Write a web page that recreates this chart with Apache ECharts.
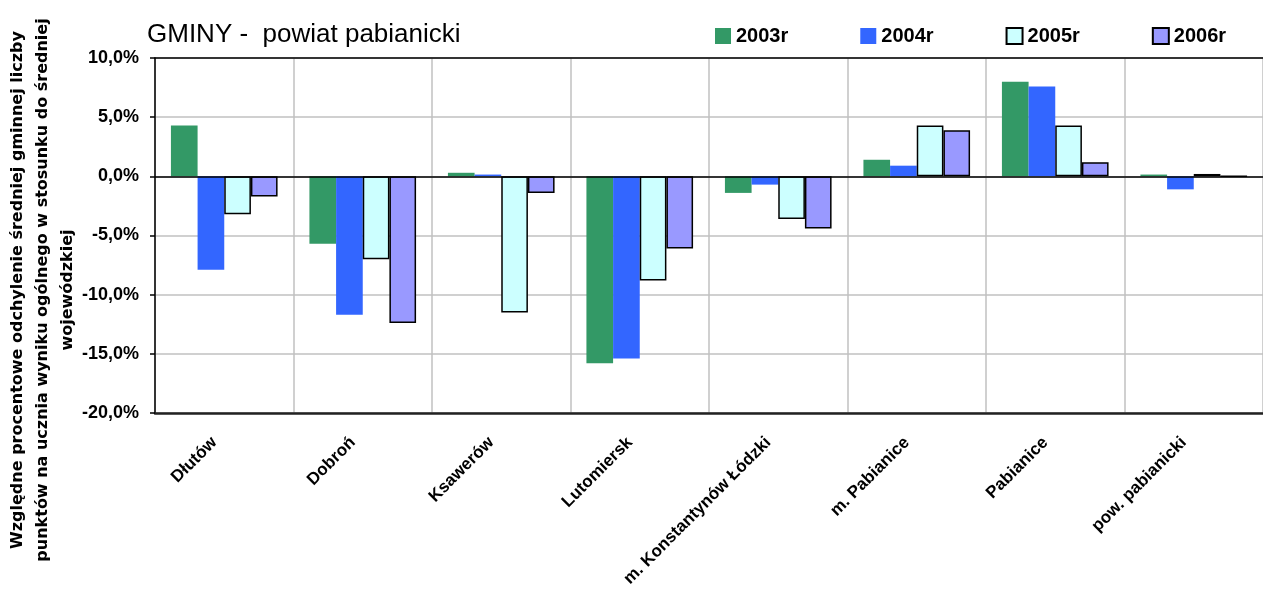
<!DOCTYPE html>
<html>
<head>
<meta charset="utf-8">
<script src="https://cdn.jsdelivr.net/npm/echarts@6/dist/echarts.min.js"></script>
<style>
  html, body { margin: 0; padding: 0; background: #fff; }
  #myChart { width: 1263px; height: 608px; }
</style>
</head>
<body>
<div id="myChart"></div>
<script>
  // dane (w %)
  let gminy = ['Dłutów', 'Dobroń', 'Ksawerów', 'Lutomiersk', 'm. Konstantynów Łódzki', 'm. Pabianice', 'Pabianice', 'pow. pabianicki'];
  let lata = ['2003r', '2004r', '2005r', '2006r'];
  let r2003 = [4.3, -5.7, 0.3, -15.8, -1.4, 1.4, 8.0, 0.15];
  let r2004 = [-7.9, -11.7, 0.15, -15.4, -0.7, 0.9, 7.6, -1.1];
  let r2005 = [-3.2, -7.0, -11.5, -8.8, -3.6, 4.3, 4.3, 0.2];
  let r2006 = [-1.7, -12.4, -1.4, -6.1, -4.4, 3.9, 1.2, 0.0];

  let font = '"Liberation Sans", Arial, sans-serif';

  let myChart = echarts.init(document.getElementById('myChart'));

  let bar = function (name, data, color, border) {
    return {
      name: name,
      type: 'bar',
      data: data,
      barGap: '0%',
      barCategoryGap: '23%',
      itemStyle: {
        color: color,
        borderColor: border ? '#000' : color,
        borderWidth: border ? 1.5 : 0
      }
    };
  };

  let series = [
    bar(lata[0], r2003, '#339966', false),
    bar(lata[1], r2004, '#3366ff', false),
    bar(lata[2], r2005, '#ccffff', true),
    bar(lata[3], r2006, '#9999ff', true)
  ];
  // linia zera
  series[0].markLine = {
    silent: true,
    symbol: 'none',
    label: {show: false},
    lineStyle: {color: '#000', type: 'solid', width: 1.5},
    data: [{yAxis: 0}]
  };

  let option = {
    animation: false,
    textStyle: {fontFamily: font},
    title: {
      text: 'GMINY -  powiat pabianicki',
      left: 147,
      top: 22,
      padding: 0,
      textStyle: {fontSize: 26, fontWeight: 'normal', color: '#000', fontFamily: font}
    },
    legend: {
      data: lata,
      left: 715,
      top: 26,
      padding: 0,
      itemWidth: 16,
      itemHeight: 16,
      itemGap: 72,
      icon: 'rect',
      textStyle: {fontSize: 20, fontWeight: 'bold', color: '#000', fontFamily: font}
    },
    grid: {left: 155, top: 58, width: 1112, height: 355},
    xAxis: [
      {
        type: 'category',
        data: gminy,
        position: 'bottom',
        axisLine: {onZero: false, lineStyle: {color: '#222', width: 2.5}},
        axisTick: {show: false},
        splitLine: {show: true, interval: 0, lineStyle: {color: '#c0c0c0', width: 1.5}},
        axisLabel: {
          interval: 0,
          rotate: 45,
          margin: 17,
          padding: [0, 14, 0, 0],
          color: '#000',
          fontSize: 17,
          fontWeight: 'bold',
          fontFamily: font
        }
      },
      {
        type: 'category',
        data: gminy,
        position: 'top',
        axisLine: {onZero: false, lineStyle: {color: '#000', width: 1.5}},
        axisTick: {show: false},
        axisLabel: {show: false},
        splitLine: {show: false}
      }
    ],
    yAxis: {
      type: 'value',
      min: -20,
      max: 10,
      interval: 5,
      axisLine: {show: true, lineStyle: {color: '#000', width: 1.5}},
      axisTick: {show: true, length: 5, lineStyle: {color: '#000', width: 1.5}},
      splitLine: {show: true, lineStyle: {color: '#c0c0c0', width: 1.5}},
      axisLabel: {
        margin: 16,
        color: '#000',
        fontSize: 18,
        fontWeight: 'bold',
        fontFamily: font,
        formatter: function (v) {
          return v.toFixed(1).replace('.', ',') + '%';
        }
      }
    },
    graphic: [
      {
        type: 'text',
        x: 43,
        y: 290,
        rotation: Math.PI / 2,
        style: {
          text: 'Względne procentowe odchylenie średniej gminnej liczby\npunktów na ucznia wyniku ogólnego w stosunku do średniej\nwojewódzkiej',
          font: 'bold 16px "DejaVu Sans", sans-serif',
          align: 'center',
          verticalAlign: 'middle',
          textAlign: 'center',
          textVerticalAlign: 'middle',
          lineHeight: 25,
          fill: '#000'
        }
      }
    ],
    series: series
  };
  myChart.setOption(option);
</script>
</body>
</html>
